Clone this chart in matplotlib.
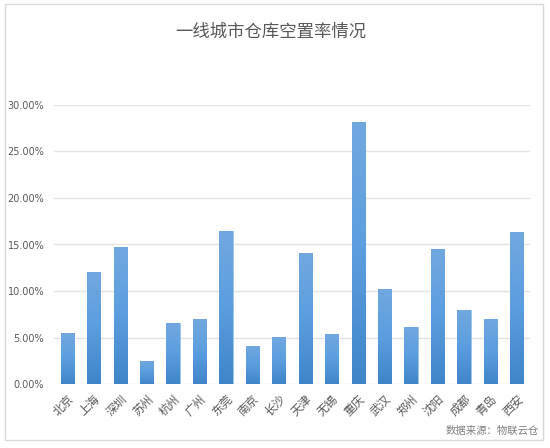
import matplotlib.pyplot as plt
import numpy as np
from matplotlib.patches import Rectangle
from matplotlib.colors import LinearSegmentedColormap

plt.rcParams['font.family'] = ['Noto Sans CJK SC', 'DejaVu Sans']

cities = ['北京', '上海', '深圳', '苏州', '杭州', '广州', '东莞', '南京', '长沙',
          '天津', '无锡', '重庆', '武汉', '郑州', '沈阳', '成都', '青岛', '西安']
vacancy = [0.0547, 0.1205, 0.1470, 0.0253, 0.0658, 0.0700, 0.1645, 0.0408, 0.0507,
           0.1409, 0.0540, 0.2810, 0.1020, 0.0615, 0.1450, 0.0794, 0.0700, 0.1630]
yticks = [0, 0.05, 0.10, 0.15, 0.20, 0.25, 0.30]

gray = '#595959'
fig = plt.figure(figsize=(5.5, 4.48), dpi=100)
fig.patches.append(Rectangle((5 / 550, 1 - 440 / 448), 538 / 550, 436 / 448,
                             transform=fig.transFigure, fill=False,
                             edgecolor='#d9d9d9', linewidth=1))
ax = fig.add_axes([54 / 550, 1 - 384.3 / 448, 476 / 550, 279.6 / 448])

x = np.arange(len(cities))
bars = ax.bar(x, vacancy, width=0.5, color='#5b9bd5', edgecolor='#9dc3e6',
              linewidth=0.5, zorder=2)

# vertical gradient on each bar, light at top, darker at bottom
grad = np.linspace(0, 1, 256).reshape(-1, 1)
cmap = LinearSegmentedColormap.from_list('bar', ['#3f85c8', '#5b9ee0', '#72a8df'])
for b in bars:
    bx, by = b.get_x(), b.get_y()
    im = ax.imshow(grad, cmap=cmap, origin='lower', aspect='auto', zorder=3,
                   extent=[bx, bx + b.get_width(), by, by + b.get_height()])
    im.set_clip_path(b)

ax.set_xlim(-0.5, len(cities) - 0.5)
ax.set_ylim(0, 0.30)
ax.set_yticks(yticks)
ax.set_yticklabels(['%.2f%%' % (v * 100) for v in yticks], fontsize=7, color=gray,
                   family='DejaVu Sans')
ax.set_xticks(x)
ax.set_xticklabels(cities, rotation=45, ha='right', va='top', rotation_mode='anchor',
                   fontsize=8.5, color=gray)
ax.tick_params(axis='both', length=0)
ax.tick_params(axis='y', pad=7)
ax.tick_params(axis='x', pad=6)
ax.grid(axis='y', color='#e3e3e3', linewidth=1, zorder=0)
for s in ax.spines.values():
    s.set_visible(False)

fig.text(271 / 550, 1 - 32 / 448, '一线城市仓库空置率情况', ha='center', va='center',
         fontsize=12.5, color=gray)
fig.text(539 / 550, 1 - 431 / 448, '数据来源：物联云仓', ha='right', va='center',
         fontsize=7.5, color='#7f7f7f')

fig.savefig('out.png', dpi=100)
